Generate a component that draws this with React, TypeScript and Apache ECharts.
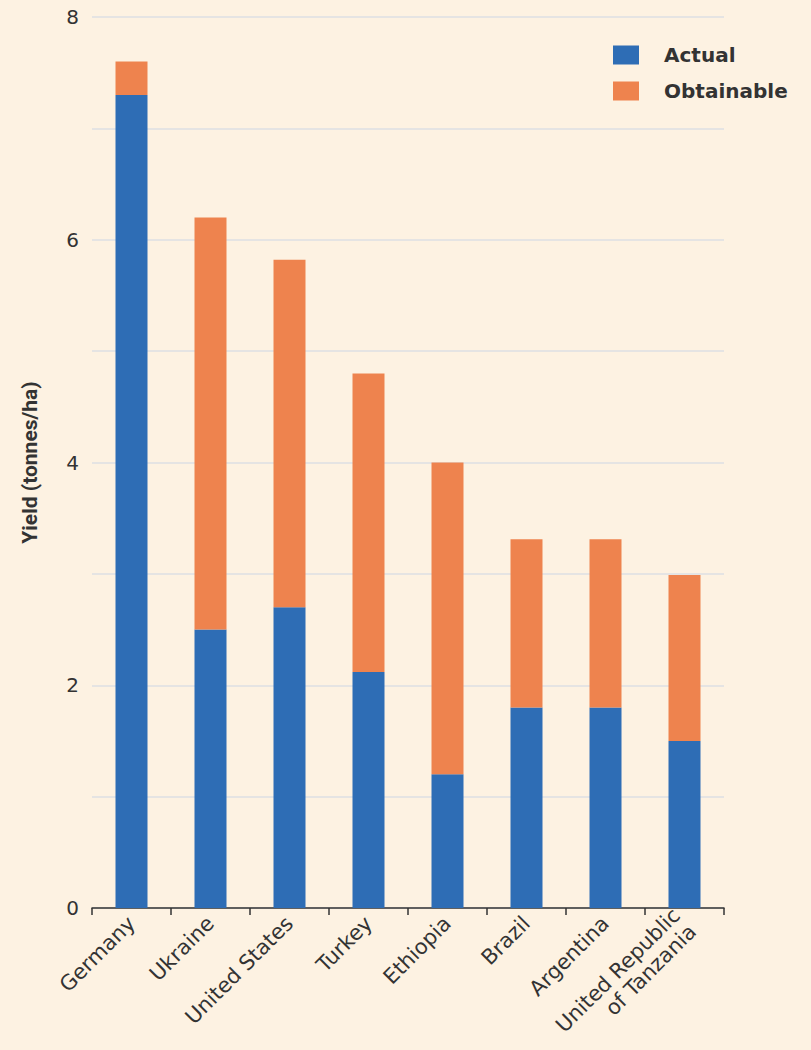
import React, { useEffect, useRef } from "react";
import * as echarts from "echarts";

const categories = [
  "Germany",
  "Ukraine",
  "United States",
  "Turkey",
  "Ethiopia",
  "Brazil",
  "Argentina",
  "United Republic\nof Tanzania",
];
const actual = [7.3, 2.5, 2.7, 2.12, 1.2, 1.8, 1.8, 1.5];
const obtainableTotal = [7.6, 6.2, 5.82, 4.8, 4.0, 3.31, 3.31, 2.99];
const obtainableGap = obtainableTotal.map((t, i) => +(t - actual[i]).toFixed(2));
const yTicks = [0, 2, 4, 6, 8];

export default function App() {
  const ref = useRef<HTMLDivElement>(null);
  useEffect(() => {
    document.body.style.margin = "0";
    const chart = echarts.init(ref.current!, null, { renderer: "svg" });
    const font = "'DejaVu Sans', 'Noto Sans', sans-serif";
    chart.setOption({
      animation: false,
      backgroundColor: "#fdf2e2",
      textStyle: { fontFamily: font },
      grid: { left: 92, right: 87, top: 17, bottom: 142, outerBoundsMode: "none", containLabel: false },
      legend: {
        left: 613,
        top: 45,
        orient: "vertical",
        itemWidth: 26,
        itemHeight: 19,
        itemGap: 16,
        padding: 0,
        icon: "rect",
        textStyle: {
          fontSize: 20,
          color: "#333",
          fontWeight: "bold",
          fontFamily: font,
          padding: [0, 0, 0, 20],
        },
        data: ["Actual", "Obtainable"],
      },
      xAxis: {
        type: "category",
        data: categories,
        axisLine: { show: true, lineStyle: { color: "#333", width: 1.5 } },
        axisTick: { show: true, length: 7, lineStyle: { color: "#333", width: 1.5 } },
        axisLabel: {
          rotate: 45,
          fontSize: 21,
          color: "#333",
          margin: 12,
          lineHeight: 23,
          interval: 0,
          fontFamily: font,
        },
      },
      yAxis: {
        type: "value",
        min: 0,
        max: 8,
        interval: 1,
        name: "Yield (tonnes/ha)",
        nameLocation: "middle",
        nameGap: 52,
        nameTextStyle: {
          fontSize: 21,
          color: "#333",
          fontWeight: "bold",
          fontFamily: "'Liberation Sans Narrow', 'Roboto', sans-serif",
        },
        axisLine: { show: false },
        axisTick: { show: false },
        splitLine: { lineStyle: { color: "#dcdfe3", width: 1.5 } },
        axisLabel: {
          fontSize: 20,
          color: "#333",
          margin: 13,
          fontFamily: font,
          formatter: (v: number) => (yTicks.includes(v) ? String(v) : ""),
        },
      },
      series: [
        {
          name: "Actual",
          type: "bar",
          stack: "y",
          data: actual,
          barWidth: 32,
          itemStyle: { color: "#2e6db5" },
        },
        {
          name: "Obtainable",
          type: "bar",
          stack: "y",
          data: obtainableGap,
          barWidth: 32,
          itemStyle: { color: "#ee834e" },
        },
      ],
    });
    return () => chart.dispose();
  }, []);
  return <div ref={ref} style={{ width: 811, height: 1050 }} />;
}
